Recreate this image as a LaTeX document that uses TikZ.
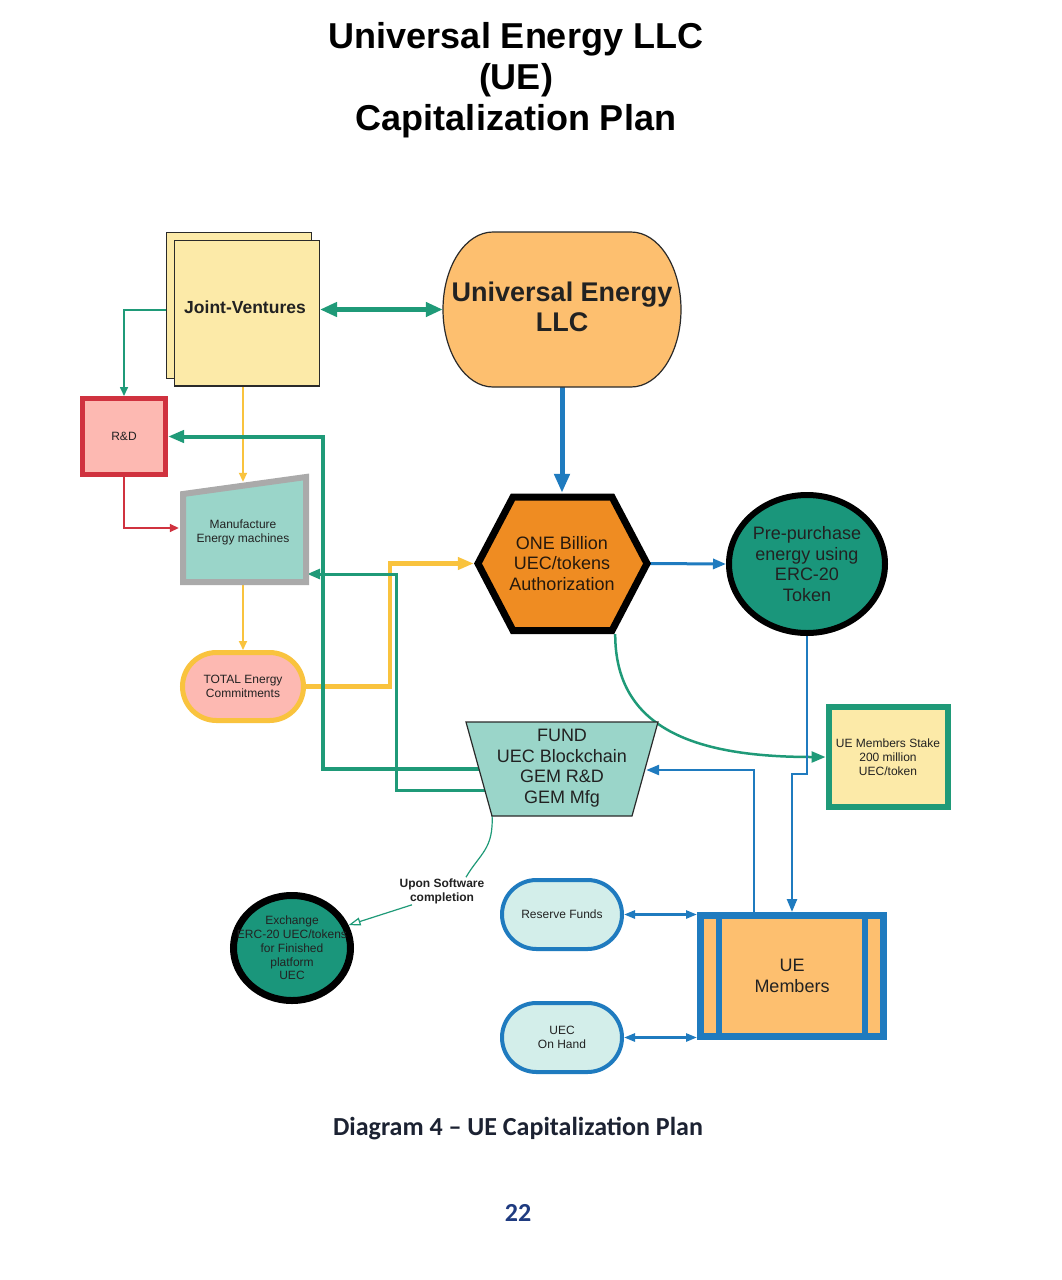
\documentclass[tikz,border=0pt]{standalone}
\usepackage{fontspec}
\setmainfont{Liberation Sans}
\newfontfamily\capfont{Carlito}
\usetikzlibrary{arrows.meta,shapes.geometric,shapes.misc,calc}
\definecolor{tealG}{HTML}{1F9A78}
\definecolor{blueL}{HTML}{1F7BBF}
\definecolor{yellowL}{HTML}{F9C33E}
\definecolor{redL}{HTML}{D0323F}
\definecolor{lyellow}{HTML}{FCEAA8}
\definecolor{lorange}{HTML}{FDBF6F}
\definecolor{lpink}{HTML}{FDB9B2}
\definecolor{lteal}{HTML}{9AD5C9}
\definecolor{dteal}{HTML}{1A967B}
\definecolor{hexor}{HTML}{EF8C22}
\definecolor{lcyan}{HTML}{D3EEEA}
\definecolor{grayB}{HTML}{AAAAAA}
\definecolor{dark}{HTML}{2A2A2A}
\definecolor{txt}{HTML}{222222}
\definecolor{capc}{HTML}{1C2232}
\definecolor{pagec}{HTML}{1F3B80}
\newcommand\myfs[2]{\fontsize{#1}{#2}\selectfont}
\pgfdeclarelayer{paper}
\pgfdeclarelayer{bg}
\pgfsetlayers{paper,bg,main}
\tikzset{
  box/.style={inner sep=0pt, align=center, text=txt},
  small/.style={font=\myfs{12}{14}},
  big/.style={font=\myfs{18}{20.5}},
  tipS/.style={-{Triangle[length=9pt,width=8pt]}},
  tipM/.style={-{Triangle[length=13pt,width=10pt]}},
  tipL/.style={-{Triangle[length=16pt,width=12pt]}},
}
\begin{document}
\begin{tikzpicture}[x=1pt,y=-1pt]
\useasboundingbox (0,0) rectangle (1062,1280);
\begin{pgfonlayer}{paper}
\fill[white] (0,0) rectangle (1062,1280);
\end{pgfonlayer}

% Title
\node[align=center, font=\bfseries\myfs{36}{41}] (title) at (516,80) {Universal Energy LLC\\(UE)\\Capitalization Plan};

% Joint ventures
\node[box, draw=dark, fill=lyellow, line width=1.2pt, minimum width=144.8pt, minimum height=145.8pt] (jvback) at (239,305.5) {};
\node[box, draw=dark, fill=lyellow, line width=1.2pt, minimum width=144.8pt, minimum height=145.8pt,
  label={[font=\bfseries\myfs{17.5}{20}, text=txt, yshift=6pt, xshift=-2pt]center:Joint-Ventures}] (jv) at (247,313) {};

% Universal Energy LLC
\filldraw[fill=lorange, draw=dark, line width=1.2pt] (493,232) -- (631,232)
  arc[start angle=-90, end angle=90, x radius=50, y radius=77.5] -- (493,387)
  arc[start angle=90, end angle=270, x radius=50, y radius=77.5] -- cycle;
\node[box, minimum width=238pt, minimum height=155pt,
  label={[align=center, font=\bfseries\myfs{27}{30}, text=txt, yshift=3pt]center:Universal Energy\\LLC}] (uellc) at (562,309.5) {};

% R&D
\node[box, small, draw=redL, fill=lpink, line width=5pt, minimum width=83pt, minimum height=76pt] (rd) at (124,436.5) {R\&D};

% Manufacture
\fill[lteal, draw=grayB, line width=6pt, line join=miter] (183,494) -- (306,477) -- (306,582) -- (183,582) -- cycle;
\node[box, small, minimum width=128pt, minimum height=101pt] (mfg) at (243,532.5) {Manufacture\\Energy machines};

% TOTAL Energy Commitments
\node[box, small, rounded rectangle, draw=yellowL, fill=lpink, line width=5pt, minimum width=121pt, minimum height=68pt] (total) at (243,686.5) {TOTAL Energy\\Commitments};

% Hexagon
\filldraw[fill=hexor, draw=black, line width=7pt, line join=miter] (478,563.5) -- (513,497) -- (612,497) -- (647,563.5) -- (612,630.5) -- (513,630.5) -- cycle;
\node[box, big, text=black!80!brown, minimum width=176pt, minimum height=141pt] (hex) at (562,563.5) {ONE Billion\\UEC/tokens\\Authorization};

% Pre-purchase
\node[box, big, ellipse, draw=black, fill=dteal, line width=6pt, minimum width=156pt, minimum height=138pt] (pre) at (807,564) {Pre-purchase\\energy using\\ERC-20\\Token};

% FUND
\filldraw[fill=lteal, draw=dark, line width=1.2pt, line join=miter] (466,722) -- (658,722) -- (632,816) -- (492,816) -- cycle;
\node[box, big, minimum width=192pt, minimum height=94pt] (fund) at (562,768) {FUND\\UEC Blockchain\\GEM R\&D\\GEM Mfg};

% UE Members Stake
\node[box, small, draw=tealG, fill=lyellow, line width=6pt, minimum width=119pt, minimum height=100pt] (stake) at (888,757) {UE Members Stake\\200 million\\UEC/token};

% Exchange
\node[box, ellipse, draw=black, fill=dteal, line width=7pt, minimum width=117pt, minimum height=105pt,
  label={[align=center, font=\myfs{12}{13.8}, text=txt]center:Exchange\\ERC-20 UEC/tokens\\for Finished\\platform\\UEC}] (ex) at (292,948) {};

% Upon software completion label
\node[align=center, font=\bfseries\myfs{12}{14}, text=txt, inner sep=1pt] (upon) at (442,891) {Upon Software\\completion};

% Reserve funds / UEC on hand
\node[box, small, rounded rectangle, draw=blueL, fill=lcyan, line width=4pt, minimum width=120pt, minimum height=69pt] (rf) at (562,914.5) {Reserve Funds};
\node[box, small, rounded rectangle, draw=blueL, fill=lcyan, line width=4pt, minimum width=120pt, minimum height=69pt] (oh) at (562,1037.5) {UEC\\On Hand};

% UE Members
\node[box, big, draw=blueL, fill=lorange, line width=7pt, minimum width=183pt, minimum height=121pt] (uem) at (792,976) {UE\\Members};
\draw[blueL, line width=6pt] ([xshift=22pt,yshift=-4pt]uem.north west) -- ([xshift=22pt,yshift=4pt]uem.south west);
\draw[blueL, line width=6pt] ([xshift=-22pt,yshift=-4pt]uem.north east) -- ([xshift=-22pt,yshift=4pt]uem.south east);

% Connectors
\begin{pgfonlayer}{bg}
\draw[tealG, line width=5pt, {Triangle[length=17pt,width=14pt]}-{Triangle[length=17pt,width=14pt]}] (uellc.west -| jv.east) -- (uellc.west);
\draw[tealG, line width=1.6pt, tipS] ([yshift=-4.5pt]jvback.west) -| (rd.north);
\draw[yellowL, line width=1.8pt, tipS] (jv.south -| mfg.north) -- (mfg.north);
\draw[redL, line width=1.6pt, tipS] (rd.south) |- ([yshift=4.5pt]mfg.west);
\draw[yellowL, line width=1.8pt, tipS] (mfg.south) -- (total.north);
\draw[yellowL, line width=4.5pt, tipL] (total.east) -- ++(84,0) |- (hex.west);
\draw[tealG, line width=4pt, tipL] ([xshift=-78pt,yshift=-1pt]fund.center) -- ++(-161,0) |- (rd.east);
\draw[tealG, line width=3pt, tipM] ([xshift=-74pt,yshift=-22pt]fund.center) -- ++(-92,0) |- ([yshift=-41.5pt]mfg.east);
\draw[blueL, line width=5pt, -{Triangle[length=19pt,width=15pt]}] (uellc.south) -- (hex.north);
\draw[blueL, line width=3pt, tipM] (hex.east) -- (pre.west);
\draw[tealG, line width=2.5pt, -{Triangle[length=14pt,width=11pt]}] ([xshift=-35pt]hex.south east) .. controls +(0,95) and +(-130,0) .. (stake.west);
\draw[blueL, line width=2.5pt, tipM] (pre.south) -- ++(0,138) -| (uem.north);
\draw[blueL, line width=2.5pt, tipM] ([xshift=-38pt]uem.north) |- ([xshift=-12pt,yshift=-2pt]fund.east);
\draw[tealG, line width=1.2pt] ([xshift=-70pt,yshift=1pt]fund.south) .. controls +(2,35) and +(14,-24) .. ([xshift=24pt]upon.north);
\draw[tealG, line width=1.2pt, -{Triangle[open,length=12pt,width=8pt]}] ([xshift=-30pt]upon.south) -- (ex.22);
\draw[blueL, line width=2.5pt, {Triangle[length=11pt,width=8pt]}-{Triangle[length=11pt,width=8pt]}] (rf.east) -- (rf.east -| uem.west);
\draw[blueL, line width=2.5pt, {Triangle[length=11pt,width=8pt]}-{Triangle[length=11pt,width=8pt]}] (oh.east) -- (oh.east -| uem.west);
\end{pgfonlayer}

% Caption and page number
\node[font=\capfont\bfseries\myfs{26}{30}, text=capc] (cap) at (518,1129) {Diagram 4 \textendash{} UE Capitalization Plan};
\node[font=\capfont\bfseries\myfs{26}{30}, text=pagec] (page) at (518,1213) {22};
\end{tikzpicture}
\end{document}
